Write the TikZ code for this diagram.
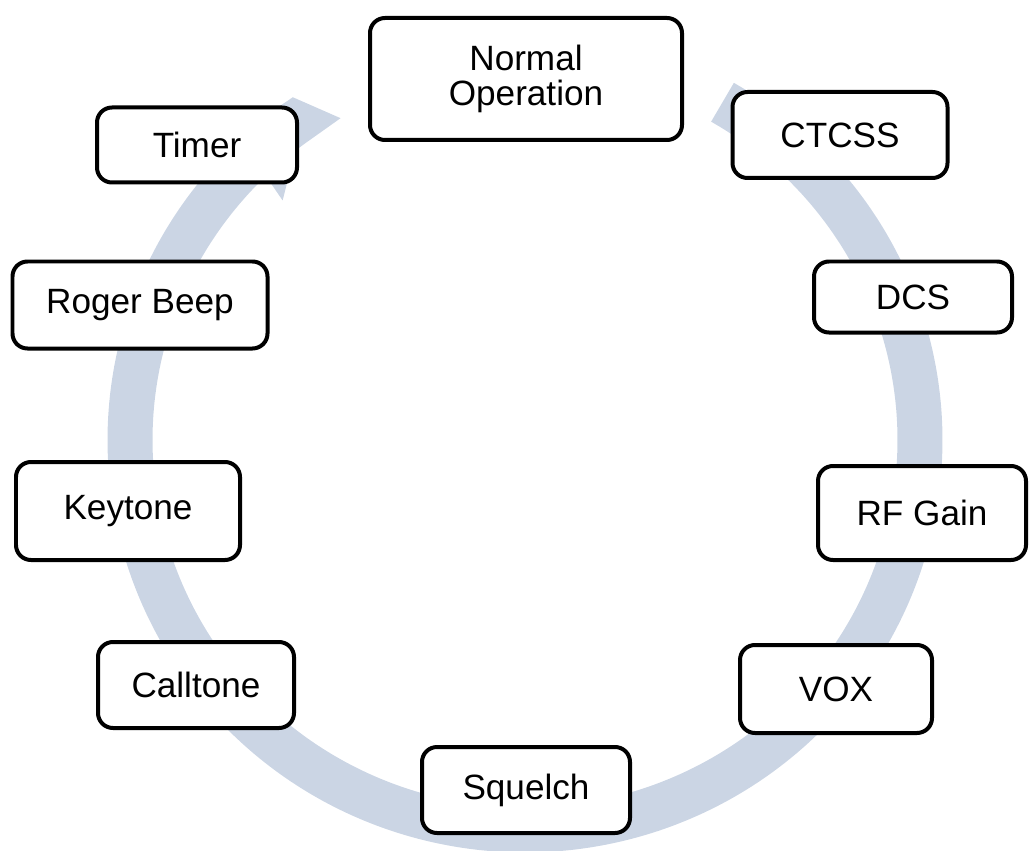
\documentclass[tikz,border=0pt]{standalone}
\usepackage{fontspec}
\setmainfont{Liberation Sans}
\usetikzlibrary{arrows.meta}
\definecolor{band}{RGB}{203,213,228}
\begin{document}
\begin{tikzpicture}[x=0.02cm,y=-0.02cm,
  box/.style={draw=black,line width=0.08cm,rounded corners=0.3cm,fill=white,align=center,
    font=\fontsize{20pt}{23pt}\selectfont,inner sep=0pt}]
\useasboundingbox (0,0) rectangle (1034,851);
\draw[band,line width=0.9cm,-{Triangle[width=2.2cm,length=1.3cm]}]
  plot[domain=60:-236,samples=150,smooth] ({525+395*cos(\x)},{440-390*sin(\x)});
\node[box,minimum width=312*0.02cm,minimum height=122*0.02cm] (n) at (526,79) {Normal\\[-3pt]Operation};
\node[box,minimum width=215*0.02cm,minimum height=86*0.02cm] (c) at (840,135) {CTCSS};
\node[box,minimum width=198*0.02cm,minimum height=71*0.02cm] (d) at (913,297) {DCS};
\node[box,minimum width=208*0.02cm,minimum height=94*0.02cm] (r) at (922,513) {RF Gain};
\node[box,minimum width=192*0.02cm,minimum height=88*0.02cm] (v) at (836,689) {VOX};
\node[box,minimum width=208*0.02cm,minimum height=86*0.02cm] (s) at (526,790) {Squelch};
\node[box,minimum width=196*0.02cm,minimum height=86*0.02cm] (ca) at (196,685) {Calltone};
\node[box,minimum width=224*0.02cm,minimum height=98*0.02cm] (k) at (128,511) {Keytone};
\node[box,minimum width=255*0.02cm,minimum height=87*0.02cm] (rb) at (140,305) {Roger Beep};
\node[box,minimum width=200*0.02cm,minimum height=75*0.02cm] (t) at (197,145) {Timer};
\end{tikzpicture}
\end{document}
